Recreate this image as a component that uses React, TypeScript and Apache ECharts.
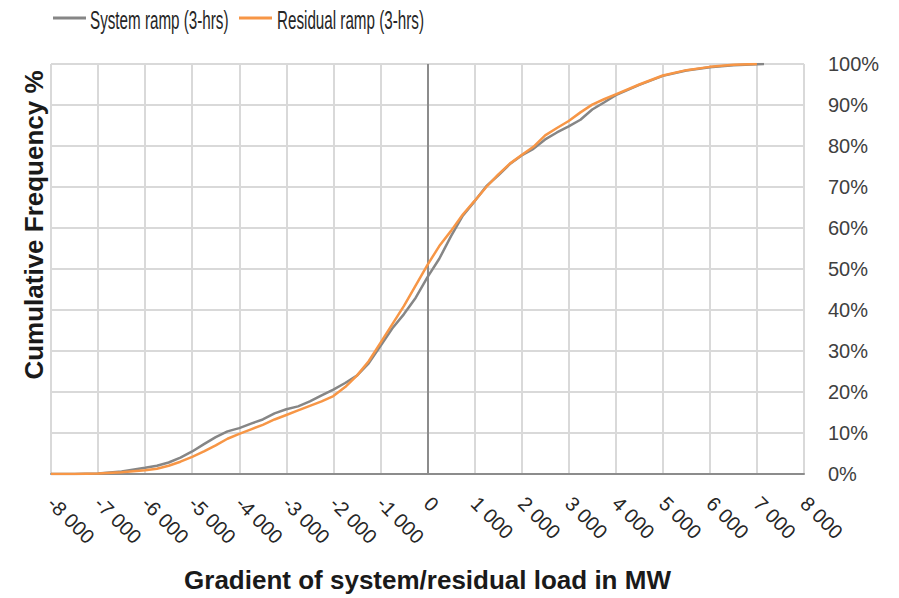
import React, { useEffect, useRef } from "react";
import * as echarts from "echarts";

const systemX = [-8000, -7500, -7000, -6500, -6000, -5750, -5500, -5250, -5000, -4750, -4500, -4250, -4000, -3750, -3500, -3250, -3000, -2750, -2500, -2250, -2000, -1750, -1500, -1250, -1000, -750, -500, -250, 0, 250, 500, 750, 1000, 1250, 1500, 1750, 2000, 2250, 2500, 2750, 3000, 3250, 3500, 3750, 4000, 4500, 5000, 5500, 6000, 6500, 7000, 7150];
const systemY = [0, 0, 0.1, 0.6, 1.5, 2.0, 2.8, 4.0, 5.5, 7.3, 9.0, 10.4, 11.2, 12.3, 13.3, 14.8, 15.8, 16.5, 17.7, 19.2, 20.6, 22.2, 24.0, 27.0, 31.2, 35.5, 39.0, 43.0, 48.0, 52.5, 58.0, 63.0, 66.5, 70.2, 72.8, 75.6, 77.7, 79.3, 81.6, 83.3, 84.8, 86.4, 88.9, 90.6, 92.4, 94.9, 97.1, 98.4, 99.2, 99.7, 99.95, 100];

const residualX = [-8000, -7500, -7000, -6500, -6000, -5750, -5500, -5250, -5000, -4750, -4500, -4250, -4000, -3750, -3500, -3250, -3000, -2750, -2500, -2250, -2000, -1750, -1500, -1250, -1000, -750, -500, -250, 0, 250, 500, 750, 1000, 1250, 1500, 1750, 2000, 2250, 2500, 2750, 3000, 3250, 3500, 3750, 4000, 4500, 5000, 5500, 6000, 6500, 7000];
const residualY = [0, 0, 0.1, 0.4, 0.9, 1.3, 2.0, 3.0, 4.2, 5.5, 7.0, 8.6, 9.8, 10.9, 12.0, 13.3, 14.4, 15.5, 16.6, 17.7, 19.0, 21.2, 24.0, 27.5, 32.0, 36.5, 41.0, 46.0, 51.0, 55.6, 59.3, 63.3, 66.6, 70.0, 73.0, 75.7, 77.8, 79.8, 82.6, 84.4, 86.1, 88.2, 90.1, 91.4, 92.6, 95.0, 97.2, 98.5, 99.3, 99.8, 100];

const seriesNames = ["System ramp (3-hrs)", "Residual ramp (3-hrs)"];
const seriesColors = ["#868686", "#f79646"];
const xAxisTitle = "Gradient of system/residual load in MW";
const yAxisTitle = "Cumulative Frequency %";

const FONT = "'Liberation Sans', Arial, sans-serif";

function fmtThousands(v: number): string {
  const s = String(Math.abs(v)).replace(/\B(?=(\d{3})+(?!\d))/g, " ");
  return v < 0 ? "-" + s : s;
}

export default function App() {
  const ref = useRef<HTMLDivElement>(null);
  useEffect(() => {
    if (!ref.current) return;
    const chart = echarts.init(ref.current, null, { renderer: "svg" });
    const sys = systemX.map((x, i) => [x, systemY[i]]);
    const res = residualX.map((x, i) => [x, residualY[i]]);

    const legendItems = [
      { lineX: 53, textX: 90 },
      { lineX: 239, textX: 277 },
    ];
    const legendGraphics: any[] = [];
    legendItems.forEach((it, i) => {
      legendGraphics.push({
        type: "line",
        shape: { x1: it.lineX, y1: 18, x2: it.lineX + 33, y2: 18 },
        style: { stroke: seriesColors[i], lineWidth: 3 },
      });
      legendGraphics.push({
        type: "text",
        x: it.textX,
        y: 20,
        scaleX: 0.585,
        style: {
          text: seriesNames[i],
          fontSize: 26,
          fontFamily: FONT,
          fill: "#262626",
          align: "left",
          verticalAlign: "middle",
        },
      });
    });

    chart.setOption({
      animation: false,
      backgroundColor: "#ffffff",
      textStyle: { fontFamily: FONT },
      grid: { left: 51, right: 95, top: 64, bottom: 118, containLabel: false },
      xAxis: {
        type: "value",
        min: -8000,
        max: 8000,
        interval: 1000,
        name: xAxisTitle,
        nameLocation: "middle",
        nameGap: 93,
        nameTextStyle: { fontSize: 26, fontWeight: "bold", color: "#1a1a1a", fontFamily: FONT },
        axisLine: { show: true, onZero: false, lineStyle: { color: "#8c8c8c", width: 2 } },
        axisTick: { show: false },
        axisLabel: {
          rotate: -45,
          margin: 26,
          fontSize: 20,
          color: "#262626",
          formatter: (v: number) => fmtThousands(v),
        },
        splitLine: { show: true, lineStyle: { color: "#d9d9d9", width: 2 } },
      },
      yAxis: {
        type: "value",
        position: "right",
        min: 0,
        max: 100,
        interval: 10,
        axisLine: { show: false },
        axisTick: { show: false },
        axisLabel: { margin: 24, fontSize: 20, color: "#404040", formatter: "{value}%" },
        splitLine: { show: true, lineStyle: { color: "#d9d9d9", width: 2 } },
      },
      graphic: [
        ...legendGraphics,
        {
          type: "text",
          x: 34,
          y: 225,
          rotation: Math.PI / 2,
          style: {
            text: yAxisTitle,
            fontSize: 26,
            fontWeight: "bold",
            fontFamily: FONT,
            fill: "#1a1a1a",
            align: "center",
            verticalAlign: "middle",
          },
        },
      ],
      series: [
        {
          name: seriesNames[0],
          type: "line",
          data: sys,
          showSymbol: false,
          symbol: "none",
          lineStyle: { color: seriesColors[0], width: 2.5 },
          itemStyle: { color: seriesColors[0] },
          z: 3,
          markLine: {
            silent: true,
            symbol: ["none", "none"],
            label: { show: false },
            lineStyle: { color: "#8c8c8c", width: 2, type: "solid" },
            data: [{ xAxis: 0 }],
            z: 2,
          },
        },
        {
          name: seriesNames[1],
          type: "line",
          data: res,
          showSymbol: false,
          symbol: "none",
          lineStyle: { color: seriesColors[1], width: 2.5 },
          itemStyle: { color: seriesColors[1] },
          z: 4,
        },
      ],
    });
    return () => chart.dispose();
  }, []);
  return <div ref={ref} style={{ position: "absolute", left: 0, top: 0, width: 899, height: 598 }} />;
}
